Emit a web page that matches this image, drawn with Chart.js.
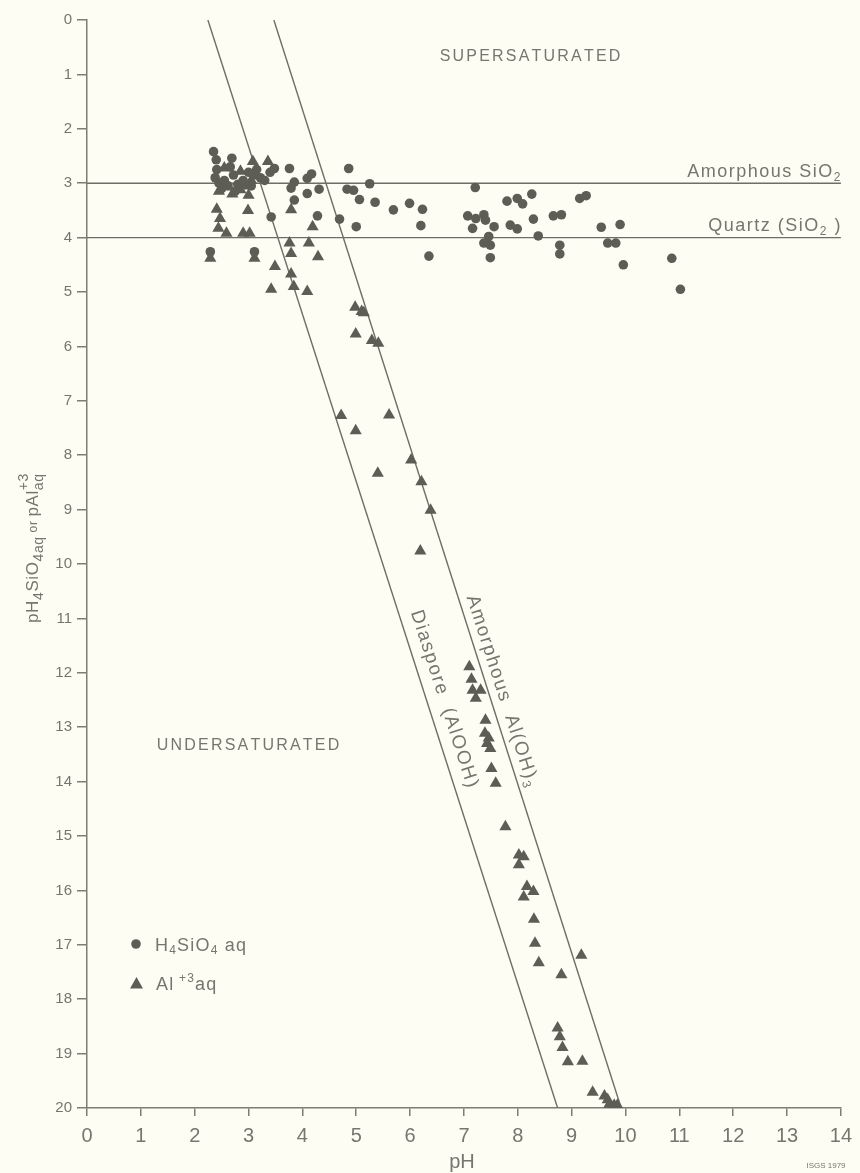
<!DOCTYPE html>
<html>
<head>
<meta charset="utf-8">
<script src="https://cdn.jsdelivr.net/npm/chart.js@4.4.1/dist/chart.umd.min.js"></script>
<style>
  html, body { margin: 0; padding: 0; background: #fdfdf4; }
  #wrap { width: 860px; height: 1173px; }
</style>
</head>
<body>
<div id="wrap"><canvas id="c" width="860" height="1173"></canvas></div>
<script>
// H4SiO4 (aq) samples: [pH, pH4SiO4]
const silicaPoints = [
  [2.35,2.42],[2.40,2.57],[2.41,2.75],[2.38,2.90],[2.45,3.00],[2.55,2.95],[2.69,2.54],[2.66,2.70],
  [2.72,2.85],[2.62,3.05],[2.80,3.02],[2.90,2.95],[3.00,2.80],[3.10,2.85],[3.22,2.90],[3.30,2.95],
  [3.40,2.80],[3.48,2.73],[2.50,3.10],[2.75,3.15],[3.05,3.05],[3.15,2.75],
  [3.76,2.73],[3.85,2.98],[3.79,3.09],[4.09,2.91],[4.17,2.83],[4.09,3.19],[4.31,3.11],[3.85,3.31],
  [4.28,3.60],[3.42,3.62],[4.86,2.73],[4.83,3.11],[4.95,3.13],[5.25,3.01],[5.06,3.30],[5.35,3.35],
  [5.69,3.49],[5.99,3.37],[6.23,3.48],[6.20,3.78],[6.35,4.34],[4.69,3.66],[5.00,3.80],[2.29,4.26],[3.11,4.26],
  [7.21,3.08],[7.80,3.33],[7.99,3.28],[8.09,3.38],[8.26,3.20],[9.15,3.28],[9.27,3.23],[7.07,3.60],
  [7.22,3.65],[7.37,3.58],[7.16,3.83],[7.40,3.68],[7.56,3.80],[7.86,3.77],[7.99,3.84],[8.29,3.66],
  [8.66,3.60],[8.81,3.58],[8.38,3.97],[9.55,3.81],[9.90,3.76],[7.46,3.98],[7.49,4.14],[7.37,4.10],
  [7.49,4.37],[8.78,4.14],[8.78,4.30],[9.67,4.10],[9.82,4.10],[9.96,4.50],[10.86,4.38],[11.02,4.95]
];

// Al+3 (aq) samples: [pH, pAl]
const aluminumPoints = [
  [3.08,2.60],[3.36,2.60],[2.55,2.72],[2.85,2.78],[2.45,3.15],[2.70,3.20],[2.85,3.12],[3.00,3.22],
  [2.92,3.05],[3.05,2.95],[2.58,3.05],
  [2.41,3.48],[2.99,3.50],[2.47,3.65],[2.44,3.83],[2.59,3.92],[2.90,3.92],[3.02,3.92],[2.29,4.38],
  [3.11,4.38],[3.79,3.49],[4.19,3.80],[3.76,4.10],[4.12,4.10],[3.79,4.29],[4.29,4.35],[3.49,4.53],
  [3.79,4.67],[3.42,4.95],[3.84,4.90],[4.09,4.99],[4.98,5.28],[5.10,5.36],[5.14,5.38],[4.99,5.77],
  [5.29,5.89],[5.41,5.94],[4.72,7.27],[5.61,7.26],[4.99,7.55],[6.02,8.09],[5.40,8.33],[6.21,8.49],
  [6.38,9.01],[6.19,9.76],[7.10,11.89],[7.14,12.12],[7.16,12.32],[7.31,12.32],[7.22,12.47],[7.40,12.87],
  [7.39,13.11],[7.46,13.20],[7.43,13.30],[7.49,13.39],[7.51,13.76],[7.59,14.03],[7.77,14.83],[8.02,15.35],
  [8.11,15.38],[8.02,15.53],[8.17,15.93],[8.29,16.02],[8.11,16.12],[8.30,16.53],[8.32,16.97],[8.39,17.33],
  [9.18,17.19],[8.81,17.55],[8.74,18.53],[8.78,18.69],[8.83,18.89],[8.93,19.15],[9.20,19.14],[9.39,19.71],
  [9.61,19.78],[9.67,19.85],[9.70,19.93],[9.79,19.95],[9.85,19.95]
];

// Saturation boundaries: [pH, value] end points
const amorphousSilicaLine = [[0,3],[14,3]];
const quartzLine = [[0,4],[14,4]];
const diasporeLine = [[2.245,0],[8.74,20]];
const amorphousAlLine = [[3.47,0],[9.92,20]];

// Axis ticks
const xTicks = [0,1,2,3,4,5,6,7,8,9,10,11,12,13,14];
const yTicks = [0,1,2,3,4,5,6,7,8,9,10,11,12,13,14,15,16,17,18,19,20];

const INK = '#5d5d55';
const LINE = '#6e6e66';
const TEXT = '#76766e';
const SANS = "'Liberation Sans', Arial, sans-serif";
const NARROW = "'Liberation Sans Narrow', 'Liberation Sans', Arial, sans-serif";

const toXY = arr => arr.map(p => ({x: p[0], y: p[1]}));

function lineSet(pts) {
  return {
    type: 'line', data: toXY(pts), borderColor: LINE, borderWidth: 1.4,
    pointRadius: 0, showLine: true, fill: false, tension: 0, order: 2
  };
}

// Draws a run of text pieces with individual sizes and baseline shifts.
// Pieces flagged with "stack" share the same x position as the next piece.
function drawRich(ctx, parts, x, y, align, family, spacing) {
  ctx.letterSpacing = (spacing || 0) + 'px';
  const widthOf = p => { ctx.font = p.size + 'px ' + family; return ctx.measureText(p.t).width; };
  let total = 0, i = 0;
  while (i < parts.length) {
    if (parts[i].stack) { total += Math.max(widthOf(parts[i]), widthOf(parts[i+1])); i += 2; }
    else { total += widthOf(parts[i]); i += 1; }
  }
  let cx = align === 'right' ? x - total : align === 'center' ? x - total / 2 : x;
  ctx.textAlign = 'left';
  ctx.textBaseline = 'alphabetic';
  i = 0;
  while (i < parts.length) {
    const p = parts[i];
    if (p.stack) {
      const q = parts[i+1];
      ctx.font = p.size + 'px ' + family; ctx.fillText(p.t, cx, y + (p.dy || 0));
      ctx.font = q.size + 'px ' + family; ctx.fillText(q.t, cx, y + (q.dy || 0));
      cx += Math.max(widthOf(p), widthOf(q)); i += 2;
    } else {
      ctx.font = p.size + 'px ' + family; ctx.fillText(p.t, cx, y + (p.dy || 0));
      cx += widthOf(p); i += 1;
    }
  }
  ctx.letterSpacing = '0px';
}

function spaced(ctx, text, x, y, spacing) {
  let w = 0;
  for (const ch of text) w += ctx.measureText(ch).width + spacing;
  w -= spacing;
  let cx = x - w / 2;
  ctx.textAlign = 'left';
  for (const ch of text) { ctx.fillText(ch, cx, y); cx += ctx.measureText(ch).width + spacing; }
}

const annotations = {
  id: 'annotations',
  beforeDraw(chart) {
    const ctx = chart.ctx;
    ctx.save();
    ctx.fillStyle = '#fdfdf4';
    ctx.fillRect(0, 0, chart.width, chart.height);
    ctx.restore();
  },
  afterDraw(chart) {
    const ctx = chart.ctx;
    const xs = chart.scales.x, ys = chart.scales.y;
    ctx.save();
    ctx.fillStyle = TEXT;

    // region labels
    ctx.font = '16px ' + SANS;
    ctx.textBaseline = 'middle';
    spaced(ctx, 'SUPERSATURATED', 530, 57, 2.2);
    spaced(ctx, 'UNDERSATURATED', 248, 746, 2.2);

    // horizontal boundary labels
    drawRich(ctx, [{t: 'Amorphous SiO', size: 18}, {t: '2', size: 12, dy: 4}], 842, 177, 'right', SANS, 1.5);
    drawRich(ctx, [{t: 'Quartz (SiO', size: 18}, {t: '2', size: 12, dy: 4}, {t: ' )', size: 18}], 842, 231, 'right', SANS, 1.5);

    // labels along the sloping boundaries
    const ang = Math.atan2(ys.getPixelForValue(20) - ys.getPixelForValue(0),
                           xs.getPixelForValue(diasporeLine[1][0]) - xs.getPixelForValue(diasporeLine[0][0]));
    ctx.save();
    ctx.translate(446, 699);
    ctx.rotate(ang);
    drawRich(ctx, [{t: 'Diaspore  (AlOOH)', size: 19}], 0, 7, 'center', SANS, 1.6);
    ctx.restore();

    ctx.save();
    ctx.translate(504, 691);
    ctx.rotate(ang);
    drawRich(ctx, [{t: 'Amorphous  Al(OH)', size: 19}, {t: '3', size: 12, dy: 4}], 0, 7, 'center', SANS, 1.6);
    ctx.restore();

    // legend
    ctx.fillStyle = INK;
    ctx.beginPath(); ctx.arc(136, 944, 4.8, 0, Math.PI * 2); ctx.fill();
    ctx.beginPath();
    ctx.moveTo(136.5, 977); ctx.lineTo(143, 988.5); ctx.lineTo(130, 988.5); ctx.closePath(); ctx.fill();
    ctx.fillStyle = TEXT;
    drawRich(ctx, [{t: 'H', size: 18}, {t: '4', size: 12, dy: 3}, {t: 'SiO', size: 18}, {t: '4', size: 12, dy: 3}, {t: ' aq', size: 18}], 155, 951, 'left', SANS, 1.2);
    drawRich(ctx, [{t: 'Al', size: 18}, {t: ' +3', size: 12, dy: -8}, {t: 'aq', size: 18}], 156, 990, 'left', SANS, 1.2);

    // y-axis title
    ctx.save();
    ctx.translate(33, 548);
    ctx.rotate(-Math.PI / 2);
    drawRich(ctx, [
      {t: 'pH', size: 17}, {t: '4', size: 14, dy: 5}, {t: 'SiO', size: 17}, {t: '4aq', size: 14, dy: 5},
      {t: ' or ', size: 12, dy: -1}, {t: 'pAl', size: 17},
      {t: '+3', size: 14, dy: -10, stack: true}, {t: 'aq', size: 14, dy: 5}
    ], 0, 5, 'center', SANS, 0.6);
    ctx.restore();

    // x-axis title and credit
    ctx.font = '20px ' + NARROW;
    ctx.textAlign = 'center'; ctx.textBaseline = 'middle';
    ctx.fillText('pH', 462, 1162);
    ctx.font = '8px ' + SANS;
    ctx.fillText('ISGS 1979', 826, 1166);
    ctx.restore();
  }
};

new Chart(document.getElementById('c'), {
  type: 'scatter',
  data: {
    datasets: [
      lineSet(amorphousSilicaLine),
      lineSet(quartzLine),
      lineSet(diasporeLine),
      lineSet(amorphousAlLine),
      {
        label: 'H4SiO4 aq', data: toXY(silicaPoints), pointStyle: 'circle',
        pointRadius: 4.8, backgroundColor: INK, borderColor: INK, borderWidth: 0, order: 1
      },
      {
        label: 'Al+3 aq', data: toXY(aluminumPoints), pointStyle: 'triangle',
        pointRadius: 7, backgroundColor: INK, borderColor: INK, borderWidth: 0, order: 1
      }
    ]
  },
  options: {
    responsive: false,
    animation: false,
    layout: { padding: { top: 20, right: 11, left: 0, bottom: 0 } },
    plugins: { legend: { display: false }, tooltip: { enabled: false } },
    scales: {
      x: {
        type: 'linear', min: 0, max: 14,
        afterFit: s => { s.height = 65; },
        afterBuildTicks: s => { s.ticks = xTicks.map(v => ({value: v})); },
        border: { color: '#7d7d74', width: 1.5 },
        grid: { drawOnChartArea: false, drawTicks: true, tickLength: 8, color: '#7d7d74', lineWidth: 1.5 },
        ticks: { color: TEXT, font: { family: NARROW, size: 20 }, padding: 8, maxRotation: 0 }
      },
      y: {
        type: 'linear', min: 0, max: 20, reverse: true,
        afterFit: s => { s.width = 87; },
        afterBuildTicks: s => { s.ticks = yTicks.map(v => ({value: v})); },
        border: { color: '#7d7d74', width: 1.5 },
        grid: { drawOnChartArea: false, drawTicks: true, tickLength: 10, color: '#7d7d74', lineWidth: 1.5 },
        ticks: { color: TEXT, font: { family: SANS, size: 15 }, padding: 5 }
      }
    }
  },
  plugins: [annotations]
});
</script>
</body>
</html>
